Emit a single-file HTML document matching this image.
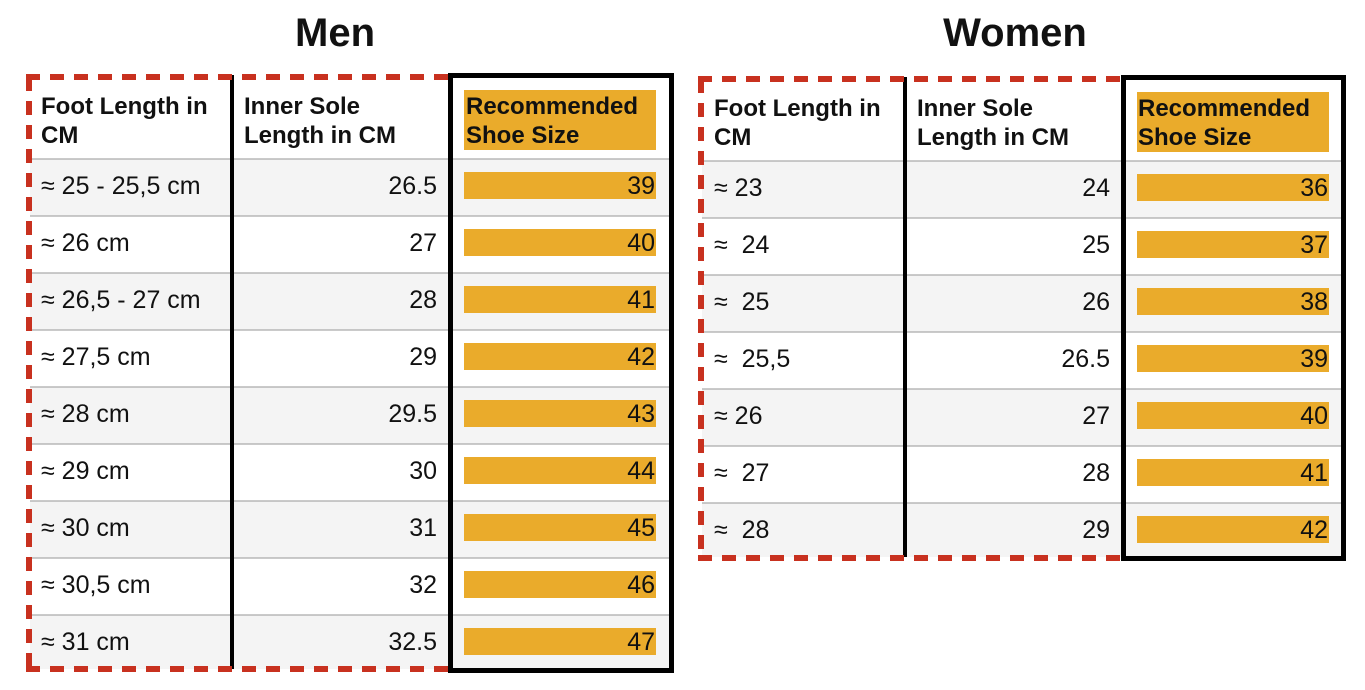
<!DOCTYPE html>
<html><head><meta charset="utf-8"><style>
html,body{margin:0;padding:0;background:#fff;width:1365px;height:690px;overflow:hidden}
svg{display:block}
text{font-family:"Liberation Sans",sans-serif;fill:#111}
.h{font-weight:bold;font-size:24px}
.t{font-size:25px}
.r{text-anchor:end}
.ti{font-weight:bold;font-size:40px;text-anchor:middle}
</style></head><body>
<svg width="1365" height="690" viewBox="0 0 1365 690">
<text class="ti" x="335" y="46">Men</text>
<text class="ti" x="1015" y="46">Women</text>

<!-- MEN -->
<g>
<rect x="30" y="159" width="420" height="57" fill="#f4f4f4"/>
<rect x="30" y="273" width="420" height="57" fill="#f4f4f4"/>
<rect x="30" y="387" width="420" height="57" fill="#f4f4f4"/>
<rect x="30" y="501" width="420" height="57" fill="#f4f4f4"/>
<rect x="30" y="615" width="420" height="54" fill="#f4f4f4"/>
<rect x="452" y="159" width="218" height="57" fill="#f4f4f4"/>
<rect x="452" y="273" width="218" height="57" fill="#f4f4f4"/>
<rect x="452" y="387" width="218" height="57" fill="#f4f4f4"/>
<rect x="452" y="501" width="218" height="57" fill="#f4f4f4"/>
<rect x="452" y="615" width="218" height="54" fill="#f4f4f4"/>
<g stroke="#aaa" stroke-width="1.2">
<line x1="30" y1="159" x2="670" y2="159"/><line x1="30" y1="216" x2="670" y2="216"/>
<line x1="30" y1="273" x2="670" y2="273"/><line x1="30" y1="330" x2="670" y2="330"/>
<line x1="30" y1="387" x2="670" y2="387"/><line x1="30" y1="444" x2="670" y2="444"/>
<line x1="30" y1="501" x2="670" y2="501"/><line x1="30" y1="558" x2="670" y2="558"/>
<line x1="30" y1="615" x2="670" y2="615"/>
</g>
<rect x="464" y="90" width="192" height="60" fill="#eaab2b"/>
<g fill="#eaab2b">
<rect x="464" y="172" width="192" height="27"/><rect x="464" y="229" width="192" height="27"/>
<rect x="464" y="286" width="192" height="27"/><rect x="464" y="343" width="192" height="27"/>
<rect x="464" y="400" width="192" height="27"/><rect x="464" y="457" width="192" height="27"/>
<rect x="464" y="514" width="192" height="27"/><rect x="464" y="571" width="192" height="27"/>
<rect x="464" y="628" width="192" height="27"/>
</g>
<text class="h" x="41" y="114">Foot Length in</text><text class="h" x="41" y="143">CM</text>
<text class="h" x="244" y="114">Inner Sole</text><text class="h" x="244" y="143">Length in CM</text>
<text class="h" x="466" y="114">Recommended</text><text class="h" x="466" y="143">Shoe Size</text>
<text class="t" x="41" y="194">≈ 25 - 25,5 cm</text><text class="t r" x="437" y="194">26.5</text><text class="t r" x="655" y="194">39</text>
<text class="t" x="41" y="251">≈ 26 cm</text><text class="t r" x="437" y="251">27</text><text class="t r" x="655" y="251">40</text>
<text class="t" x="41" y="308">≈ 26,5 - 27 cm</text><text class="t r" x="437" y="308">28</text><text class="t r" x="655" y="308">41</text>
<text class="t" x="41" y="365">≈ 27,5 cm</text><text class="t r" x="437" y="365">29</text><text class="t r" x="655" y="365">42</text>
<text class="t" x="41" y="422">≈ 28 cm</text><text class="t r" x="437" y="422">29.5</text><text class="t r" x="655" y="422">43</text>
<text class="t" x="41" y="479">≈ 29 cm</text><text class="t r" x="437" y="479">30</text><text class="t r" x="655" y="479">44</text>
<text class="t" x="41" y="536">≈ 30 cm</text><text class="t r" x="437" y="536">31</text><text class="t r" x="655" y="536">45</text>
<text class="t" x="41" y="593">≈ 30,5 cm</text><text class="t r" x="437" y="593">32</text><text class="t r" x="655" y="593">46</text>
<text class="t" x="41" y="650">≈ 31 cm</text><text class="t r" x="437" y="650">32.5</text><text class="t r" x="655" y="650">47</text>
<line x1="232" y1="75" x2="232" y2="669" stroke="#000" stroke-width="4"/>
<g stroke="#c8311f" stroke-width="6" fill="none" stroke-dasharray="14 10">
<line x1="26" y1="77" x2="450" y2="77"/>
<line x1="29" y1="77" x2="29" y2="672"/>
<line x1="26" y1="669" x2="450" y2="669"/>
</g>
<rect x="450.5" y="75.5" width="221" height="595" fill="none" stroke="#000" stroke-width="5"/>
</g>

<!-- WOMEN -->
<g>
<rect x="702" y="161" width="421" height="57" fill="#f4f4f4"/>
<rect x="702" y="275" width="421" height="57" fill="#f4f4f4"/>
<rect x="702" y="389" width="421" height="57" fill="#f4f4f4"/>
<rect x="702" y="503" width="421" height="54" fill="#f4f4f4"/>
<rect x="1125" y="161" width="218" height="57" fill="#f4f4f4"/>
<rect x="1125" y="275" width="218" height="57" fill="#f4f4f4"/>
<rect x="1125" y="389" width="218" height="57" fill="#f4f4f4"/>
<rect x="1125" y="503" width="218" height="54" fill="#f4f4f4"/>
<g stroke="#aaa" stroke-width="1.2">
<line x1="702" y1="161" x2="1342" y2="161"/><line x1="702" y1="218" x2="1342" y2="218"/>
<line x1="702" y1="275" x2="1342" y2="275"/><line x1="702" y1="332" x2="1342" y2="332"/>
<line x1="702" y1="389" x2="1342" y2="389"/><line x1="702" y1="446" x2="1342" y2="446"/>
<line x1="702" y1="503" x2="1342" y2="503"/>
</g>
<rect x="1137" y="92" width="192" height="60" fill="#eaab2b"/>
<g fill="#eaab2b">
<rect x="1137" y="174" width="192" height="27"/><rect x="1137" y="231" width="192" height="27"/>
<rect x="1137" y="288" width="192" height="27"/><rect x="1137" y="345" width="192" height="27"/>
<rect x="1137" y="402" width="192" height="27"/><rect x="1137" y="459" width="192" height="27"/>
<rect x="1137" y="516" width="192" height="27"/>
</g>
<text class="h" x="714" y="116">Foot Length in</text><text class="h" x="714" y="145">CM</text>
<text class="h" x="917" y="116">Inner Sole</text><text class="h" x="917" y="145">Length in CM</text>
<text class="h" x="1138" y="116">Recommended</text><text class="h" x="1138" y="145">Shoe Size</text>
<text class="t" x="714" y="196">≈ 23</text><text class="t r" x="1110" y="196">24</text><text class="t r" x="1328" y="196">36</text>
<text class="t" x="714" y="253">≈&#160; 24</text><text class="t r" x="1110" y="253">25</text><text class="t r" x="1328" y="253">37</text>
<text class="t" x="714" y="310">≈&#160; 25</text><text class="t r" x="1110" y="310">26</text><text class="t r" x="1328" y="310">38</text>
<text class="t" x="714" y="367">≈&#160; 25,5</text><text class="t r" x="1110" y="367">26.5</text><text class="t r" x="1328" y="367">39</text>
<text class="t" x="714" y="424">≈ 26</text><text class="t r" x="1110" y="424">27</text><text class="t r" x="1328" y="424">40</text>
<text class="t" x="714" y="481">≈&#160; 27</text><text class="t r" x="1110" y="481">28</text><text class="t r" x="1328" y="481">41</text>
<text class="t" x="714" y="538">≈&#160; 28</text><text class="t r" x="1110" y="538">29</text><text class="t r" x="1328" y="538">42</text>
<line x1="905" y1="77" x2="905" y2="557" stroke="#000" stroke-width="4"/>
<g stroke="#c8311f" stroke-width="6" fill="none" stroke-dasharray="14 10">
<line x1="698" y1="79" x2="1122" y2="79"/>
<line x1="701" y1="79" x2="701" y2="561"/>
<line x1="698" y1="558" x2="1122" y2="558"/>
</g>
<rect x="1123.5" y="77.5" width="220" height="481" fill="none" stroke="#000" stroke-width="5"/>
</g>
</svg>
</body></html>
